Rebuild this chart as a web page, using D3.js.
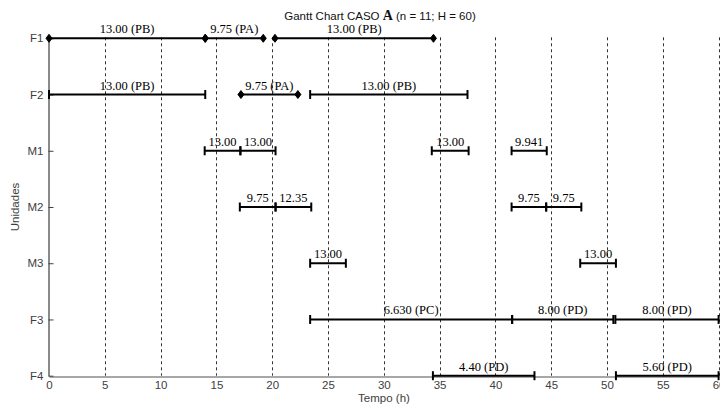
<!DOCTYPE html>
<html>
<head>
<meta charset="utf-8">
<script src="https://cdn.jsdelivr.net/npm/d3@7"></script>
<style>
  body { margin: 0; background: #fff; }
  svg { display: block; }
</style>
</head>
<body>
<svg id="chart" width="720" height="405"></svg>
<script>
// units on the y axis, top to bottom
var units = ['F1', 'F2', 'M1', 'M2', 'M3', 'F3', 'F4'];
var xTicks = [0, 5, 10, 15, 20, 25, 30, 35, 40, 45, 50, 55, 60];

// tasks
var taskUnit = ['F1', 'F1', 'F1', 'F2', 'F2', 'F2',
    'M1', 'M1', 'M1', 'M1', 'M2', 'M2', 'M2', 'M2',
    'M3', 'M3', 'F3', 'F3', 'F3', 'F4', 'F4'];
var taskStart = [0, 14.0, 20.25, 0, 17.2, 23.4,
    13.95, 17.15, 34.3, 41.45, 17.1, 20.3, 41.45, 44.55,
    23.4, 47.6, 23.4, 41.5, 50.75, 34.4, 50.8];
var taskEnd = [14.0, 19.2, 34.45, 14.0, 22.3, 37.5,
    17.15, 20.3, 37.6, 44.6, 20.3, 23.5, 44.55, 47.7,
    26.6, 50.8, 41.5, 50.57, 60, 43.5, 60];
var taskLabel = ['13.00 (PB)', '9.75 (PA)', '13.00 (PB)', '13.00 (PB)', '9.75 (PA)', '13.00 (PB)',
    '13.00', '13.00', '13.00', '9.941', '9.75', '12.35', '9.75', '9.75',
    '13.00', '13.00', '6.630 (PC)', '8.00 (PD)', '8.00 (PD)', '4.40 (PD)', '5.60 (PD)'];
// tasks drawn with diamond ends
var taskFlag = [1, 1, 1, 0, 1, 0,
    0, 0, 0, 0, 0, 0, 0, 0,
    0, 0, 0, 0, 0, 0, 0];

var tasks = taskUnit.map(function (u, i) {
    return { unit: u, start: taskStart[i], end: taskEnd[i], label: taskLabel[i], flag: taskFlag[i] };
});

var svg = d3.select('#chart');
var plotLeft = 49, plotRight = 718.6, plotTop = 38.3, plotBottom = 375.7;

var x = d3.scaleLinear().domain([0, 60]).range([plotLeft, plotRight]);
var y = d3.scalePoint().domain(units).range([plotTop, plotBottom]);

var sans = 'Liberation Sans, Arial, sans-serif';
var serif = 'Liberation Serif, Times New Roman, serif';

// grid
svg.append('g')
    .selectAll('line')
    .data(xTicks.filter(function (d) { return d > 0; }))
    .enter()
    .append('line')
    .attr('x1', function (d) { return Math.round(x(d)) + 0.5; })
    .attr('x2', function (d) { return Math.round(x(d)) + 0.5; })
    .attr('y1', plotTop - 1)
    .attr('y2', plotBottom)
    .attr('stroke', '#333')
    .attr('stroke-width', 1)
    .attr('stroke-dasharray', '3,3');

// axes
var xAxis = d3.axisBottom(x).tickValues(xTicks).tickSize(0).tickPadding(4);
var gx = svg.append('g')
    .attr('transform', 'translate(0,' + (Math.round(plotBottom) + 0.5) + ')')
    .call(xAxis);
gx.select('.domain').attr('stroke', '#8a8a8a').attr('stroke-width', 1.5);
gx.selectAll('text').attr('font-family', sans).attr('font-size', 11.5).attr('fill', '#404040');

var yAxis = d3.axisLeft(y).tickSizeInner(-5).tickSizeOuter(0).tickPadding(5);
var gy = svg.append('g')
    .attr('transform', 'translate(' + (Math.round(plotLeft) - 0.5) + ',0)')
    .call(yAxis);
gy.select('.domain').attr('stroke', '#8a8a8a').attr('stroke-width', 2);
gy.selectAll('.tick line').attr('stroke', '#404040');
gy.selectAll('text').attr('font-family', sans).attr('font-size', 11.5).attr('fill', '#404040');

// task bars
var bars = svg.append('g')
    .selectAll('g')
    .data(tasks)
    .enter()
    .append('g');

bars.append('line')
    .attr('x1', function (d) { return x(d.start); })
    .attr('x2', function (d) { return x(d.end); })
    .attr('y1', function (d) { return y(d.unit); })
    .attr('y2', function (d) { return y(d.unit); })
    .attr('stroke', '#000')
    .attr('stroke-width', 2);

function ends(d) {
    return [{ x: x(d.start), y: y(d.unit), flag: d.flag }, { x: x(d.end), y: y(d.unit), flag: d.flag }];
}

bars.selectAll('path')
    .data(ends)
    .enter()
    .append('path')
    .attr('d', function (p) {
        if (p.flag) {
            return 'M' + (p.x - 3) + ',' + p.y + 'L' + p.x + ',' + (p.y - 4) +
                'L' + (p.x + 3) + ',' + p.y + 'L' + p.x + ',' + (p.y + 4) + 'Z';
        }
        return 'M' + p.x + ',' + (p.y - 4.5) + 'L' + p.x + ',' + (p.y + 4.5);
    })
    .attr('fill', '#000')
    .attr('stroke', '#000')
    .attr('stroke-width', function (p) { return p.flag ? 1 : 2; });

bars.append('text')
    .attr('x', function (d) { return (x(d.start) + x(d.end)) / 2; })
    .attr('y', function (d) { return y(d.unit) - 5; })
    .attr('text-anchor', 'middle')
    .attr('font-family', serif)
    .attr('font-size', 12.5)
    .attr('fill', '#000')
    .text(function (d) { return d.label; });

// title
var title = svg.append('text')
    .attr('x', 380)
    .attr('y', 20)
    .attr('text-anchor', 'middle')
    .attr('font-family', sans)
    .attr('font-size', 11.5)
    .attr('fill', '#111');
title.append('tspan').text('Gantt Chart CASO ');
title.append('tspan').attr('font-family', serif).attr('font-weight', 'bold').attr('font-size', 14).text('A');
title.append('tspan').text(' (n = 11; H = 60)');

// axis labels
svg.append('text')
    .attr('x', 384)
    .attr('y', 402)
    .attr('text-anchor', 'middle')
    .attr('font-family', sans)
    .attr('font-size', 11.5)
    .attr('fill', '#404040')
    .text('Tempo (h)');

svg.append('text')
    .attr('transform', 'translate(19,207) rotate(-90)')
    .attr('text-anchor', 'middle')
    .attr('font-family', sans)
    .attr('font-size', 11.5)
    .attr('fill', '#404040')
    .text('Unidades');
</script>
</body>
</html>
